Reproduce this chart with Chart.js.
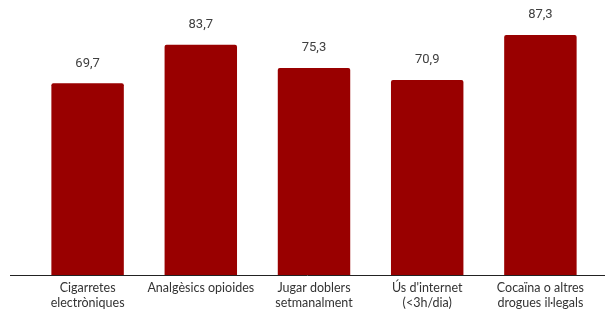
<!DOCTYPE html>
<html>
<head>
<meta charset="utf-8">
<script src="https://cdn.jsdelivr.net/npm/chart.js@4"></script>
<style>
  html, body { margin: 0; padding: 0; background: #fff; }
  #wrap { width: 605px; height: 310px; position: relative; }
</style>
</head>
<body>
<div id="wrap"><canvas id="barChart"></canvas></div>
<script>
const categories = [
    ['Cigarretes', 'electròniques'],
    ['Analgèsics opioides'],
    ['Jugar doblers', 'setmanalment'],
    ['Ús d\'internet', '(<3h/dia)'],
    ['Cocaïna o altres', 'drogues il·legals']
];
const values = [69.7, 83.7, 75.3, 70.9, 87.3];

(function () {
    const barColor = '#990000';

    // value labels above each bar, comma decimals
    const valueLabels = {
        id: 'valueLabels',
        afterDatasetsDraw(chart) {
            const ctx = chart.ctx;
            const meta = chart.getDatasetMeta(0);
            ctx.save();
            ctx.font = '13px Roboto';
            ctx.fillStyle = '#404040';
            ctx.textAlign = 'center';
            ctx.textBaseline = 'middle';
            meta.data.forEach((bar, i) => {
                ctx.fillText(values[i].toFixed(1).replace('.', ','), bar.x, bar.y - 20);
            });
            ctx.restore();
        }
    };

    // baseline runs wider than the plot area
    const baseLine = {
        id: 'baseLine',
        afterDatasetsDraw(chart) {
            const ctx = chart.ctx;
            const y = Math.round(chart.chartArea.bottom) + 0.5;
            ctx.save();
            ctx.strokeStyle = '#222';
            ctx.lineWidth = 1;
            ctx.beginPath();
            ctx.moveTo(10, y);
            ctx.lineTo(chart.width, y);
            ctx.stroke();
            ctx.restore();
        }
    };

    new Chart(document.getElementById('barChart'), {
        type: 'bar',
        data: {
            labels: categories,
            datasets: [{
                data: values,
                backgroundColor: barColor,
                borderRadius: 2,
                borderSkipped: 'bottom',
                categoryPercentage: 1,
                barPercentage: 0.64
            }]
        },
        options: {
            responsive: true,
            maintainAspectRatio: false,
            animation: false,
            layout: { padding: { left: 31, right: 8, top: 0, bottom: 0 } },
            plugins: { legend: { display: false }, tooltip: { enabled: false } },
            scales: {
                x: {
                    grid: { display: false, drawTicks: false },
                    border: { display: false },
                    ticks: {
                        color: '#333',
                        font: { family: 'Lato', size: 12.5, lineHeight: 1.2 },
                        padding: 5,
                        maxRotation: 0,
                        autoSkip: false
                    },
                    afterFit(scale) { scale.height = 35; }
                },
                y: { display: false, min: 0, max: 100 }
            }
        },
        plugins: [valueLabels, baseLine]
    });
})();
</script>
</body>
</html>
